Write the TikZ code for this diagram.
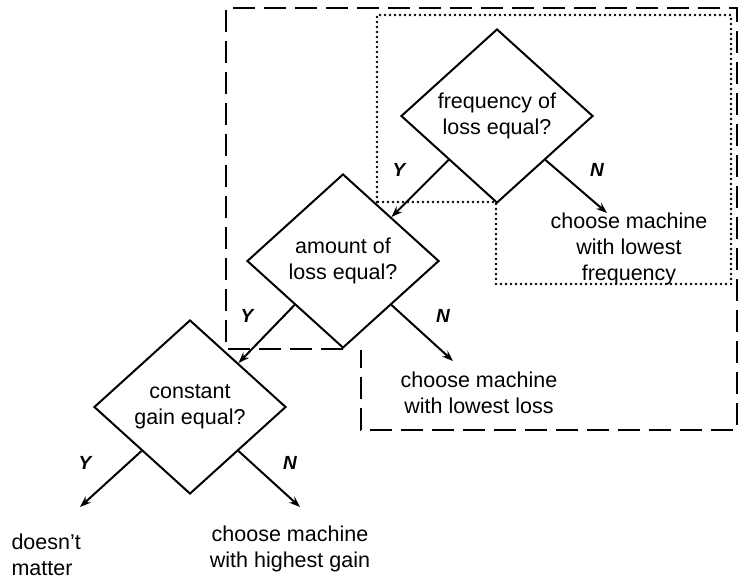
\documentclass[tikz,border=0pt]{standalone}
\usepackage{fontspec}
\setmainfont{Liberation Sans}
\usetikzlibrary{shapes.geometric,arrows.meta}

\tikzset{
  question/.style={diamond, draw, line width=2pt, inner sep=0pt,
    minimum width=192pt, minimum height=174pt, align=center},
  answer/.style={align=center},
  yn/.style={font=\fontsize{19}{22}\selectfont\bfseries\itshape},
  branch/.style={line width=2pt, -{Stealth[length=11pt,width=8pt]}},
}

\begin{document}
\begin{tikzpicture}[x=1pt, y=-1pt, font=\fontsize{21.5}{26}\selectfont]
  \useasboundingbox (0,0) rectangle (739,580);

  % dashed and dotted frames
  \draw [line width=2.5pt, dash pattern=on 22pt off 9pt]
    (343,349) -- (226,349) -- (226,8) -- (737,8) -- (737,430) -- (361,430) -- (361,350);
  \draw [line width=2.6pt, line cap=round, dash pattern=on 0pt off 5pt]
    (377,202) -- (377,15) -- (731,15) -- (731,284) -- (496,284) -- (496,202) -- cycle;

  % questions
  \node [question] (freq) at (497,116) {frequency of\\loss equal?};
  \node [question] (amount) at (343,261) {amount of\\loss equal?};
  \node [question] (gain) at (190,407) {constant\\gain equal?};

  % answers
  \node [answer] (freqno) at (629,249) {choose machine\\with lowest\\frequency};
  \node [answer] (amountno) at (479,393) {choose machine\\with lowest loss};
  \node [answer] (gainno) at (290,549) {choose machine\\with highest gain};
  \node [align=left, anchor=west] (gainyes) at (8,555) {doesn't\\matter};

  \coordinate (freqN) at (607,213);
  \coordinate (amountN) at (453,361);
  \coordinate (gainY) at (80,507);
  \coordinate (gainN) at (300,507);

  % branches
  \draw [branch] (freq.south west) -- (amount.north east);
  \draw [branch] (freq.south east) -- (freqN);
  \draw [branch] (amount.south west) -- (gain.north east);
  \draw [branch] (amount.south east) -- (amountN);
  \draw [branch] (gain.south west) -- (gainY);
  \draw [branch] (gain.south east) -- (gainN);

  \node [yn] (freqy) at (399,170) {Y};
  \node [yn] (freqn) at (597,170) {N};
  \node [yn] (amounty) at (247,316) {Y};
  \node [yn] (amountn) at (443,316) {N};
  \node [yn] (gainy) at (85,463) {Y};
  \node [yn] (gainn) at (290,463) {N};
\end{tikzpicture}
\end{document}
